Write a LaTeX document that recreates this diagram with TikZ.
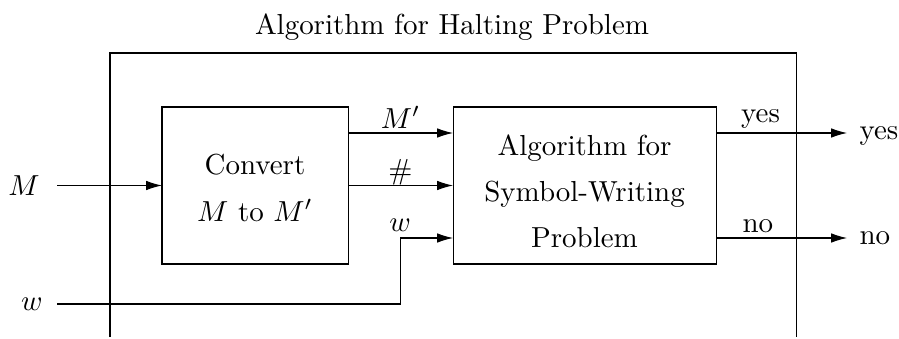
\documentclass[tikz,border=0pt]{standalone}
\usetikzlibrary{arrows.meta,calc}
\def\pxlen{0.3454pt}
\begin{document}
\begin{tikzpicture}[x=0.3454pt,y=-0.3454pt,
  every node/.style={font=\fontsize{10}{12}\selectfont},
  blockbox/.style={draw,line width=0.35pt,inner sep=0pt,outer sep=0pt,minimum height=157*\pxlen},
  blocktext/.style={align=center,inner sep=0pt,font=\fontsize{10}{16}\selectfont},
  arr/.style={-{Latex[length=5.5pt,width=3.3pt]},line width=0.35pt},
  wire/.style={anchor=south,inner sep=1.5pt},
  ioname/.style={inner sep=0pt}]
\useasboundingbox (0,0) rectangle (899,339);

% enclosing algorithm frame (open at the bottom)
\node[anchor=base] (title) at (452,35) {Algorithm for Halting Problem};
\draw[line width=0.35pt] (110,337) -- (110,53) -- (796,53) -- (796,337);

% the two inner blocks
\node[blockbox,minimum width=186*\pxlen,
  label={[blocktext,yshift=-0.9pt]center:Convert\\$M$ to $M'$}] (conv) at (255,185.5) {};
\node[blockbox,minimum width=263*\pxlen,
  label={[blocktext,yshift=-2.0pt]center:Algorithm for\\Symbol-Writing\\Problem}] (alg) at (584.5,185.5) {};

% ports on the block sides
\coordinate (cport1) at ([yshift=-26*\pxlen]conv.north east);
\coordinate (aport1) at ([yshift=-26*\pxlen]alg.north west);
\coordinate (aport3) at ([yshift=26*\pxlen]alg.south west);
\coordinate (oport1) at ([yshift=-26*\pxlen]alg.north east);
\coordinate (oport2) at ([yshift=26*\pxlen]alg.south east);

% inputs
\node[ioname] (inM) at (24,185.5) {$M$};
\node[ioname] (inw) at (32,304) {$w$};
\coordinate (mstart) at (57,185.5);
\coordinate (wstart) at (57,304);
\coordinate (wturn) at (aport3 -| 400,0);
\draw[arr] (mstart) -- (conv.west);
\draw[arr] (wstart) -| (wturn) -- (aport3);
\node[wire,inner sep=2.2pt] (wlbl) at (wturn) {$w$};

% between the blocks
\draw[arr] (cport1) -- (aport1) node[midway,wire] (mlbl) {$M'$};
\draw[arr] (conv.east) -- (alg.west) node[midway,anchor=south,inner sep=0pt] (hlbl) {\#};

% outputs
\coordinate (yesend) at (oport1 -| 847,0);
\coordinate (noend) at (oport2 -| 847,0);
\draw[arr] (oport1) -- (yesend) node[pos=0.34,wire] (yeslbl) {yes};
\draw[arr] (oport2) -- (noend) node[pos=0.32,wire] (nolbl) {no};
\node[ioname,anchor=base west] (outyes) at (859,140) {yes};
\node[ioname,anchor=base west] (outno) at (859,245) {no};
\end{tikzpicture}
\end{document}
